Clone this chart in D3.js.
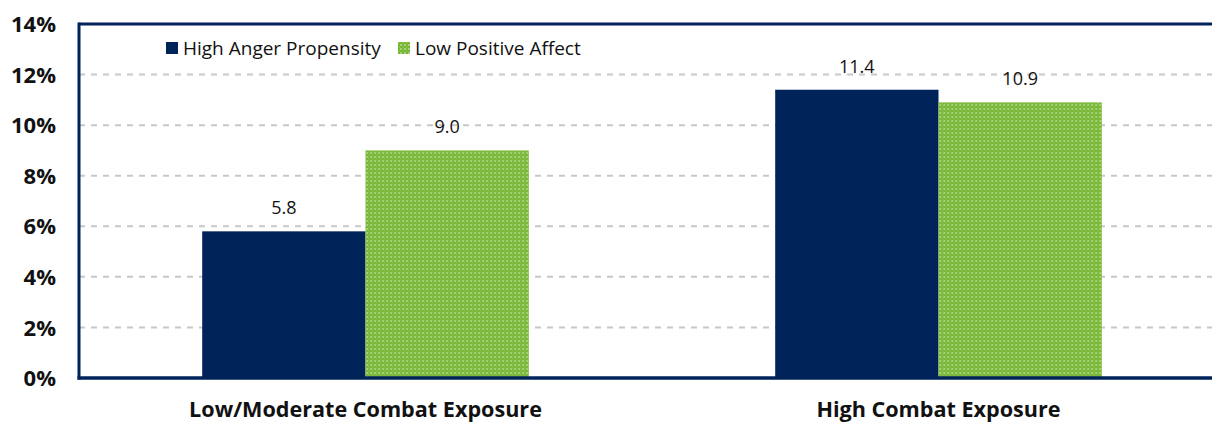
<!DOCTYPE html>
<html><head><meta charset="utf-8">
<script src="https://cdn.jsdelivr.net/npm/d3@7"></script>
<style>body{margin:0;background:#fff}svg{display:block}</style>
</head><body>
<svg id="c" width="1212" height="422"></svg>
<script>
const categories = ["Low/Moderate Combat Exposure", "High Combat Exposure"];
const seriesNames = ["High Anger Propensity", "Low Positive Affect"];
const angerValues = [5.8, 11.4];
const affectValues = [9.0, 10.9];
const yTicks = [0, 2, 4, 6, 8, 10, 12, 14];

const navy = "#00235a", green = "#78b735";
const svg = d3.select("#c");
const defs = svg.append("defs");
const pat = defs.append("pattern").attr("id","dots").attr("patternUnits","userSpaceOnUse")
  .attr("width",4).attr("height",4);
pat.append("rect").attr("width",4).attr("height",4).attr("fill",green);
pat.append("circle").attr("cx",1).attr("cy",1).attr("r",0.75).attr("fill","#eef6e4");
pat.append("circle").attr("cx",3).attr("cy",3).attr("r",0.5).attr("fill","#a9d27e");

const mLeft = 79, mTop = 24, mBottom = 378;
const y = d3.scaleLinear().domain([0,14]).range([mBottom, mTop]);
const x0 = d3.scaleBand().domain(categories).range([mLeft, mLeft + 1146]).paddingInner(0.43).paddingOuter(0.215);
const x1 = d3.scaleBand().domain(seriesNames).range([0, x0.bandwidth()]);

// gridlines
svg.append("g").selectAll("line").data(yTicks.filter(d => d > 0 && d < 14)).join("line")
  .attr("x1", mLeft).attr("x2", 1212).attr("y1", d => y(d)).attr("y2", d => y(d))
  .attr("stroke","#c8c8c8").attr("stroke-width",2).attr("stroke-dasharray","6,6");

const data = categories.map((c,i) => ({cat:c, vals:[{s:seriesNames[0], v:angerValues[i]},{s:seriesNames[1], v:affectValues[i]}]}));
const g = svg.append("g").selectAll("g").data(data).join("g").attr("transform", d => `translate(${x0(d.cat)},0)`);
g.selectAll("rect").data(d => d.vals).join("rect")
  .attr("x", d => x1(d.s)).attr("width", x1.bandwidth())
  .attr("y", d => y(d.v)).attr("height", d => y(0) - y(d.v))
  .attr("fill", (d,i) => i === 0 ? navy : "url(#dots)");
g.selectAll("text").data(d => d.vals).join("text")
  .attr("x", d => x1(d.s) + x1.bandwidth()/2).attr("y", d => y(d.v) - 17)
  .attr("text-anchor","middle").attr("font-family","'Open Sans', sans-serif").attr("font-size",18)
  .attr("fill","#111").text(d => d.v.toFixed(1));

// frame
svg.append("line").attr("x1",mLeft).attr("x2",1212).attr("y1",mTop).attr("y2",mTop).attr("stroke",navy).attr("stroke-width",3);
svg.append("line").attr("x1",mLeft).attr("x2",mLeft).attr("y1",mTop-1.5).attr("y2",mBottom+1.5).attr("stroke",navy).attr("stroke-width",3);
svg.append("line").attr("x1",mLeft-1.5).attr("x2",1212).attr("y1",mBottom).attr("y2",mBottom).attr("stroke",navy).attr("stroke-width",3.5);

// y axis labels
const yAxis = d3.axisLeft(y).tickValues(yTicks).tickFormat(d => d + "%").tickSize(0).tickPadding(23);
const ya = svg.append("g").attr("transform",`translate(${mLeft},0)`).call(yAxis);
ya.select(".domain").remove();
ya.selectAll("text").attr("font-family","'Open Sans', sans-serif").attr("font-weight","bold").attr("font-size",22).attr("fill","#111").attr("dy","0.35em");

// x axis labels
const xAxis = d3.axisBottom(x0).tickSize(0).tickPadding(24);
const xa = svg.append("g").attr("transform",`translate(0,${mBottom})`).call(xAxis);
xa.select(".domain").remove();
xa.selectAll("text").attr("font-family","'Open Sans', sans-serif").attr("font-weight","bold").attr("font-size",21.6).attr("fill","#111");

// legend
const leg = svg.append("g");
const legX = [166, 398];
seriesNames.forEach((s,i) => {
  leg.append("rect").attr("x",legX[i]).attr("y",42).attr("width",12).attr("height",12).attr("fill", i===0 ? navy : "url(#dots)");
  leg.append("text").attr("x",legX[i]+17).attr("y",55).attr("font-family","'Open Sans', sans-serif").attr("font-size",19).attr("fill","#111").text(s);
});
</script>
</body></html>
